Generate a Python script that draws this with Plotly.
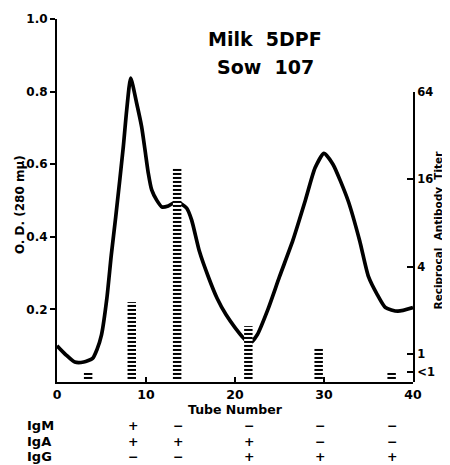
import plotly.graph_objects as go

# ---- data ----
tube = [0, 1, 2, 3, 4, 4.5, 5, 5.6, 6.1, 6.6, 7.45, 7.83, 8.28, 8.95, 9.51, 9.89, 10.26,
        10.64, 11.2, 11.8, 12.5, 13.45, 14.57, 15.13, 16, 17, 18, 19, 20, 21, 21.7, 22.5,
        23.7, 25, 26.5, 27.9, 29, 30, 31, 32.7, 34, 35, 36, 36.9, 38.3, 40]
od = [0.10, 0.075, 0.055, 0.055, 0.065, 0.09, 0.13, 0.23, 0.35, 0.455, 0.648, 0.749,
      0.837, 0.768, 0.703, 0.639, 0.575, 0.529, 0.501, 0.482, 0.485, 0.497, 0.479, 0.446,
      0.36, 0.29, 0.23, 0.185, 0.15, 0.12, 0.107, 0.13, 0.20, 0.29, 0.39, 0.50, 0.59,
      0.63, 0.60, 0.50, 0.39, 0.29, 0.24, 0.205, 0.195, 0.205]

titer_tubes = [3.5, 8.4, 13.5, 21.5, 29.4, 37.6]
titer_log2 = [-0.43, 1.19, 4.26, 0.64, 0.16, -0.43]   # position on log2 titer scale (<1 = -0.41)

titer_tickvals = [6, 4, 2, 0, -0.41]
titer_ticktext = ["64", "16", "4", "1", "<1"]

class_cols = [8.5, 13.6, 21.6, 29.6, 37.6]
class_rows = ["IgM", "IgA", "IgG"]
class_signs = [["+", "−", "−", "−", "−"],
               ["+", "+", "+", "−", "−"],
               ["−", "−", "+", "+", "+"]]

FONT = "DejaVu Sans"
BAR_BASE = -0.58

fig = go.Figure()

fig.add_trace(go.Bar(
    x=titer_tubes, y=[v - BAR_BASE for v in titer_log2], base=BAR_BASE,
    width=0.95, xaxis="x", yaxis="y2",
    marker=dict(color="white", line=dict(width=0),
                pattern=dict(shape="-", fgcolor="black", bgcolor="white",
                             size=4, solidity=0.5, fgopacity=1)),
    showlegend=False, hoverinfo="skip"))

fig.add_trace(go.Scatter(
    x=tube, y=od, mode="lines", xaxis="x", yaxis="y",
    line=dict(color="black", width=3.7, shape="spline", smoothing=0.6),
    showlegend=False))

xtickfont = dict(family=FONT, size=12.5, color="black", weight="bold")
ltickfont = dict(family=FONT, size=12, color="black", weight="bold")
rtickfont = dict(family=FONT, size=11.5, color="black", weight="bold")

# the page body adds an 8px offset; size the figure so the plot lands where the reference has it
fig.update_layout(
    width=442, height=457,
    margin=dict(l=49, r=37, t=11, b=83),
    paper_bgcolor="white", plot_bgcolor="rgba(0,0,0,0)",
    xaxis=dict(range=[0, 40], tickvals=[0, 10, 20, 30, 40], ticks="inside",
               ticklen=5, tickwidth=2, tickcolor="black", showline=True,
               linecolor="black", linewidth=2, showgrid=False, zeroline=False,
               tickfont=xtickfont, anchor="y", automargin=False, ticklabelstandoff=0),
    yaxis=dict(range=[0, 1.0], domain=[0, 1], tickvals=[0.2, 0.4, 0.6, 0.8, 1.0],
               ticktext=["0.2", "0.4", "0.6", "0.8", "1.0"],
               ticks="outside", ticklen=5, tickwidth=2, tickcolor="black",
               ticklabelstandoff=0,
               showline=True, linecolor="black", linewidth=2, showgrid=False,
               zeroline=False, tickfont=ltickfont, anchor="x", automargin=False),
    yaxis2=dict(range=[-0.64, 6], domain=[0, 0.799], side="right", anchor="x",
                tickvals=titer_tickvals, ticktext=titer_ticktext,
                ticks="inside", ticklen=6, tickwidth=2, tickcolor="black",
                ticklabelstandoff=0, automargin=False,
                showline=True, linecolor="black", linewidth=2, showgrid=False,
                zeroline=False, tickfont=rtickfont),
)

def txt(text, x, y, xref="paper", size=13, angle=0, xanchor="center"):
    return dict(text=text, x=x, y=y, xref=xref, yref="paper", showarrow=False,
                xanchor=xanchor, yanchor="middle", textangle=angle, borderpad=0,
                font=dict(family=FONT, size=size, color="black", weight="bold"))

ann = [
    txt("Milk  5DPF", 0.585, 0.945, size=19),
    txt("Sow  107", 0.585, 0.868, size=19),
    txt("O. D. (280 mμ)", -0.104, 0.49, size=12, angle=-90),
    txt("Reciprocal  Antibody  Titer", 1.07, 0.42, size=10.5, angle=-90),
    txt("Tube Number", 20, -0.077, xref="x", size=12.5),
]

row_y = [-0.119, -0.163, -0.206]
for r, name in enumerate(class_rows):
    ann.append(txt(name, -0.086, row_y[r], xanchor="left", size=13))
    for c, xc in enumerate(class_cols):
        ann.append(txt(class_signs[r][c], xc, row_y[r], xref="x", size=12.5))

fig.update_layout(annotations=ann)

fig.write_html("out.html")
